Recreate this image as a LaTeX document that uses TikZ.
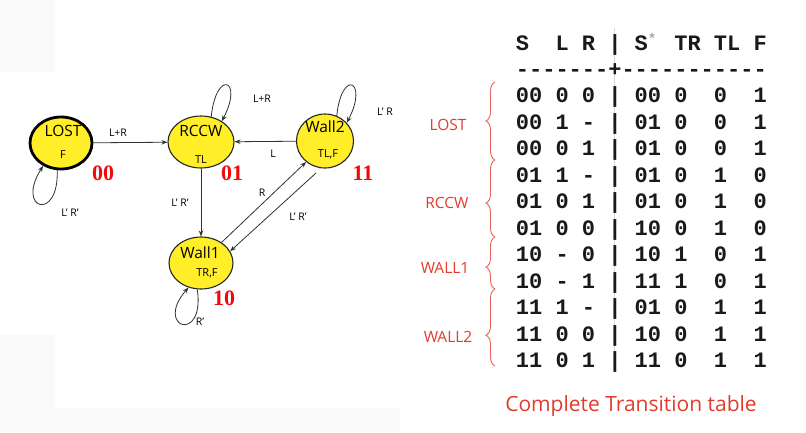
\documentclass[tikz,border=0pt]{standalone}
\usepackage{fontspec}
\setmainfont{Open Sans}
\newfontfamily\tabfont{Liberation Mono}[Ligatures=TeXOff]
\newfontfamily\numfont{Liberation Serif}
\usetikzlibrary{arrows.meta,decorations.pathreplacing,shapes.geometric}
\definecolor{stateyellow}{RGB}{255,238,40}
\definecolor{annred}{RGB}{226,60,46}
\definecolor{numred}{RGB}{240,10,10}
\definecolor{edgegray}{RGB}{50,50,50}
\definecolor{bgtex}{RGB}{250,250,250}
\begin{document}
\begin{tikzpicture}[x=1pt,y=-1pt,
  state/.style={ellipse,draw=black!85,line width=1.1pt,fill=stateyellow,inner sep=0pt},
  sname/.style={inner sep=0pt,font=\fontsize{15.5}{17}\selectfont},
  sout/.style={inner sep=0pt,font=\fontsize{11}{12}\selectfont},
  code/.style={inner sep=0pt,text=numred,font=\numfont\bfseries\fontsize{22}{24}\selectfont},
  elab/.style={inner sep=0pt,font=\fontsize{10.5}{12}\selectfont},
  arr/.style={draw=edgegray,line width=0.8pt,-{Stealth[length=6pt,width=4.5pt]}},
  row/.style={anchor=west,inner sep=0pt,text height=15pt,text depth=0pt,text=black!90,
    font=\tabfont\bfseries\fontsize{22}{24}\selectfont},
  grp/.style={inner sep=0pt,text=annred,font=\fontsize{15.5}{17}\selectfont},
  bracestyle/.style={draw=annred!80,line width=0.9pt,decorate,
    decoration={brace,mirror,amplitude=9pt,aspect=#1}}
]
\fill[white] (0,0) rectangle (806,432);
\useasboundingbox (0,0) rectangle (806,432);
% faint background texture
\fill[bgtex] (0,0) rectangle (55,72);
\fill[bgtex] (0,335) rectangle (55,432);
\fill[bgtex] (0,408) rectangle (400,432);

% ---------------- state diagram ----------------
\node[state,minimum width=62pt,minimum height=52pt,line width=2.8pt,draw=black] (lost) at (61,143) {};
\node[state,minimum width=66pt,minimum height=52pt] (rccw) at (201,142) {};
\node[state,minimum width=57pt,minimum height=54pt] (w2) at (325,141) {};
\node[state,minimum width=64pt,minimum height=52pt] (w1) at (201,263) {};

\node[sname] (lostn) at (63,131) {LOST};
\node[sout] (losto) at (63,155) {F};
\node[sname] (rccwn) at (201,131) {RCCW};
\node[sout] (rccwo) at (201,160) {TL};
\node[sname] (w2n) at (325,127) {Wall2};
\node[sout] (w2o) at (328,154) {TL,F};
\node[sname] (w1n) at (200,253) {Wall1};
\node[sout] (w1o) at (207,273) {TR,F};

\node[code] (c00) at (103,173) {00};
\node[code] (c01) at (232,173) {01};
\node[code] (c11) at (363,173) {11};
\node[code] (c10) at (224,298) {10};

% transitions
\draw[arr] (lost) -- (rccw);
\draw[arr] (w2) -- (rccw);
\draw[arr] (rccw) -- (w1);
\draw[arr] (w1.45) -- (w2.228);
\draw[arr,shorten <=7pt] (w2.262) -- (w1.22);

% self loops
\draw[arr] (lost.262) .. controls +(2,52) and +(-28,44) .. (lost.232);
\draw[arr] (rccw.68) .. controls +(5,-48) and +(22,-42) .. (rccw.45);
\draw[arr] (w2.65) .. controls +(5,-48) and +(22,-42) .. (w2.40);
\draw[arr] (w1.262) .. controls +(8,55) and +(-35,40) .. (w1.243);

% edge labels
\node[elab] (l1) at (118,133) {L+R};
\node[elab] (l2) at (273,154) {L};
\node[elab] (l3) at (180,203) {L' R'};
\node[elab] (l4) at (262,193) {R};
\node[elab] (l5) at (298,217) {L' R'};
\node[elab] (l6) at (70,213) {L' R'};
\node[elab] (l7) at (262,99) {L+R};
\node[elab] (l8) at (385,112) {L' R};
\node[elab] (l9) at (200,322) {R'};

% ---------------- transition table ----------------
\draw[gray!30,line width=0.5pt] (614,28) -- (614,372);
\node[row] (hdr) at (515.7,43) {S~~L~R~|~S\makebox[0pt][l]{\raisebox{7pt}{\color{gray!70}\fontsize{14}{14}\selectfont *}}~~TR~TL~F};
\node[row] (dash) at (515.7,69) {-------+-----------};
\node[row] (r1) at (515.7,95) {00~0~0~|~00~0~~0~~1};
\node[row] (r2) at (515.7,121.5) {00~1~-~|~01~0~~0~~1};
\node[row] (r3) at (515.7,148) {00~0~1~|~01~0~~0~~1};
\node[row] (r4) at (515.7,174.5) {01~1~-~|~01~0~~1~~0};
\node[row] (r5) at (515.7,201) {01~0~1~|~01~0~~1~~0};
\node[row] (r6) at (515.7,227.5) {01~0~0~|~10~0~~1~~0};
\node[row] (r7) at (515.7,254) {10~-~0~|~10~1~~0~~1};
\node[row] (r8) at (515.7,280.5) {10~-~1~|~11~1~~0~~1};
\node[row] (r9) at (515.7,307) {11~1~-~|~01~0~~1~~1};
\node[row] (r10) at (515.7,333.5) {11~0~0~|~10~0~~1~~1};
\node[row] (r11) at (515.7,360) {11~0~1~|~11~0~~1~~1};

% braces
\coordinate (b0) at (495,82);
\coordinate (b1) at (495,160);
\coordinate (b2) at (495,237);
\coordinate (b3) at (495,289);
\coordinate (b4) at (495,366);
\draw[bracestyle=0.5] (b0) -- (b1);
\draw[bracestyle=0.56] (b1) -- (b2);
\draw[bracestyle=0.58] (b2) -- (b3);
\draw[bracestyle=0.6] (b3) -- (b4);
\node[grp] (gl) at (448,125) {LOST};
\node[grp] (gr) at (447,203) {RCCW};
\node[grp] (g1) at (445,268) {WALL1};
\node[grp] (g2) at (448,337) {WALL2};

\node[inner sep=0pt,text=annred,font=\fontsize{21}{24}\selectfont] (title) at (631,406) {Complete Transition table};
\end{tikzpicture}
\end{document}
